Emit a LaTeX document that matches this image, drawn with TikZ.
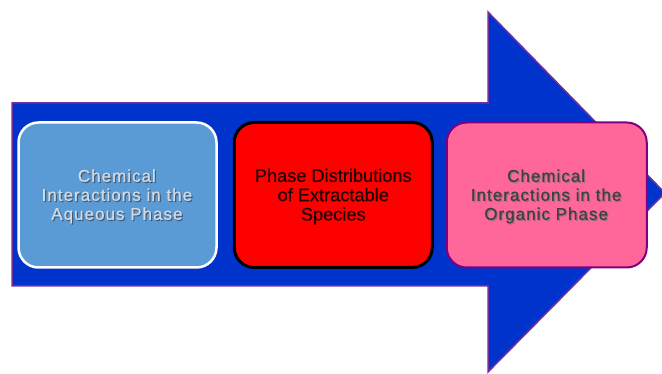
\documentclass[tikz,border=0pt]{standalone}
\usepackage{fontspec}
\setmainfont{Liberation Sans}
\usetikzlibrary{positioning}

\definecolor{arrowblue}{HTML}{0033CC}
\definecolor{arrowrim}{HTML}{7030A0}
\definecolor{aqfill}{HTML}{5B9BD5}
\definecolor{aqtext}{HTML}{D4D9E0}
\definecolor{aqshade}{HTML}{3E5F82}
\definecolor{orgfill}{HTML}{FF6699}
\definecolor{orgrim}{HTML}{800080}
\definecolor{orgshade}{HTML}{A07080}

\tikzset{
  phasebox/.style={rounded corners=20pt, minimum width=198pt, minimum height=145pt},
  widetext/.style={align=center,
    font=\fontsize{17}{19}\selectfont\addfontfeature{LetterSpace=6, FakeBold=0.6}},
  plaintext/.style={align=center,
    font=\fontsize{18.2}{19.3}\selectfont\addfontfeature{FakeBold=0.6}},
}

\begin{document}
\begin{tikzpicture}[x=1pt, y=-1pt]
  \useasboundingbox (0,0) rectangle (662,374);
  \clip (0,0) rectangle (662,374);

  % the big arrow behind the three steps
  \draw[line width=1.5pt, arrowrim, fill=arrowblue]
    (12,103) -- (488,103) -- (488,12) -- (665,193) -- (488,372)
    -- (488,286) -- (12,286) -- cycle;

  % steps, left to right
  \node[phasebox, fill=aqfill, draw=white, line width=2.5pt] (aq) at (117.5,195) {};
  \node[phasebox, fill=red, draw=black, line width=3pt, right=15pt of aq] (dist) {};
  \node[phasebox, fill=orgfill, draw=orgrim, line width=2pt, minimum width=200pt,
    right=12pt of dist] (org) {};

  % labels, the grey ones with a drop shadow
  \node[widetext, text=aqshade] (aqsh) at ([xshift=0.6pt, yshift=-2.6pt]aq.center)
    {Chemical\\Interactions in the\\Aqueous Phase};
  \node[widetext, text=aqtext] (aqtxt) at ([xshift=-0.6pt, yshift=-1.4pt]aq.center)
    {Chemical\\Interactions in the\\Aqueous Phase};
  \node[plaintext, text=black!85!red] (disttxt) at ([yshift=-1.5pt]dist.center)
    {Phase Distributions\\of Extractable\\Species};
  \node[widetext, text=orgshade] (orgsh) at ([xshift=0.6pt, yshift=-2.6pt]org.center)
    {Chemical\\Interactions in the\\Organic Phase};
  \node[widetext, text=black!75] (orgtxt) at ([xshift=-0.6pt, yshift=-1.4pt]org.center)
    {Chemical\\Interactions in the\\Organic Phase};
\end{tikzpicture}
\end{document}
